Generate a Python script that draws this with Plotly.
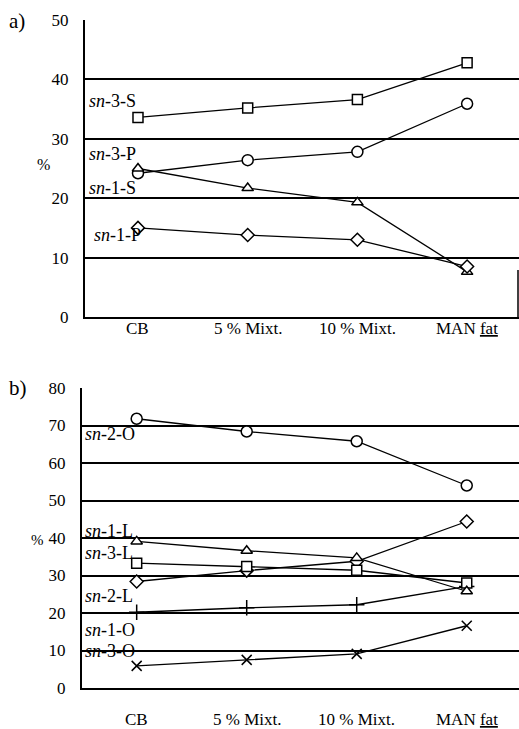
import plotly.graph_objects as go

# ---------------- data ----------------
categories = ["CB", "5 % Mixt.", "10 % Mixt.", "MAN fat"]
cat_labels = ["CB", "5 % Mixt.", "10 % Mixt.", "MAN <u>fat</u>"]
x_pos = [0, 1, 2, 3]

# panel a)
a_sn3S = [33.6, 35.2, 36.6, 42.8]
a_sn3P = [24.2, 26.4, 27.8, 35.9]
a_sn1S = [25.0, 21.7, 19.3, 7.6]
a_sn1P = [15.0, 13.8, 13.0, 8.5]

# panel b)
b_sn2O = [71.8, 68.4, 65.8, 54.0]
b_sn1L = [39.1, 36.6, 34.7, 25.8]
b_sn3L = [33.3, 32.4, 31.4, 28.0]
b_sn2L = [28.4, 31.3, 33.8, 44.4]
b_sn1O = [20.2, 21.4, 22.2, 27.1]
b_sn3O = [5.9, 7.5, 9.1, 16.6]

a_ticks = [0, 10, 20, 30, 40, 50]
b_ticks = [0, 10, 20, 30, 40, 50, 60, 70, 80]

# ---------------- layout helpers ----------------
W, H = 519, 729
FONT = "Liberation Serif"


def py(p):
    return 1 - p / H


def px(p):
    return p / W


fig = go.Figure()


def add(y, sym, xa, ya, size=10):
    fig.add_trace(go.Scatter(
        x=x_pos, y=y, mode="lines+markers", xaxis=xa, yaxis=ya,
        line=dict(color="black", width=1.3),
        marker=dict(symbol=sym, size=size, color="white",
                    line=dict(color="black", width=1.5)),
        showlegend=False, hoverinfo="skip"))


# panel a
add(a_sn3S, "square", "x", "y", 10)
add(a_sn3P, "circle", "x", "y", 11)
add(a_sn1S, "triangle-up", "x", "y", 10)
add(a_sn1P, "diamond", "x", "y", 10)

# panel b
add(b_sn2O, "circle", "x2", "y2", 11)
add(b_sn1O, "cross-thin", "x2", "y2", 11)
add(b_sn3O, "x-thin", "x2", "y2", 10)
add(b_sn2L, "diamond", "x2", "y2", 10)
add(b_sn3L, "square", "x2", "y2", 10)
add(b_sn1L, "triangle-up", "x2", "y2", 10)

tickfont = dict(family=FONT, size=17, color="black")

common_x = dict(
    tickmode="array", tickvals=x_pos, showticklabels=False,
    showgrid=False, zeroline=False, showline=True, linecolor="black",
    linewidth=2, ticks="", fixedrange=True, automargin=False,
)
common_y = dict(
    showgrid=True, gridcolor="black", gridwidth=1.5, zeroline=False,
    showline=True, linecolor="black", linewidth=2, ticks="",
    tickfont=tickfont, ticklabelstandoff=11, fixedrange=True,
    automargin=False,
)

fig.update_layout(
    width=W, height=H,
    margin=dict(l=0, r=0, t=0, b=0),
    paper_bgcolor="white", plot_bgcolor="white",
    font=dict(family=FONT, color="black"),
    xaxis=dict(domain=[px(85), 1], range=[-0.483, 3.473], anchor="y",
               **common_x),
    yaxis=dict(domain=[py(317), py(20)], range=[0, 50], tickvals=a_ticks,
               anchor="x", **common_y),
    xaxis2=dict(domain=[px(82), 1], range=[-0.497, 3.475], anchor="y2",
                **common_x),
    yaxis2=dict(domain=[py(688), py(388)], range=[0, 80], tickvals=b_ticks,
                anchor="x2", **common_y),
)

ann = []


def label(text, x, y, size=18, anchor="left"):
    ann.append(dict(text=text, x=px(x), y=py(y), xref="paper", yref="paper",
                    xanchor=anchor, yanchor="middle", showarrow=False,
                    font=dict(family=FONT, size=size, color="black")))


# category labels placed along each panel's x axis
for i, t in enumerate(cat_labels):
    for xr, yy in (("x", 328), ("x2", 719)):
        ann.append(dict(text=t, x=x_pos[i], y=py(yy), xref=xr, yref="paper",
                        xanchor="center", yanchor="middle", showarrow=False,
                        font=tickfont))

label("a)", 7, 21, 21)
label("b)", 7, 388, 21)
label("%", 35, 164, 16)
label("%", 46, 540, 15, anchor="right")

label("<i>sn</i>-3-S", 87, 101)
label("<i>sn</i>-3-P", 87, 154)
label("<i>sn</i>-1-S", 87, 188)
label("<i>sn</i>-1-P", 92, 235)

label("<i>sn</i>-2-O", 83, 434)
label("<i>sn</i>-1-L", 83, 531)
label("<i>sn</i>-3-L", 83, 553)
label("<i>sn</i>-2-L", 83, 596)
label("<i>sn</i>-1-O", 83, 630)
label("<i>sn</i>-3-O", 83, 651)

fig.update_layout(annotations=ann)

# short right border segment on the top panel
fig.add_shape(type="line", xref="paper", yref="paper",
              x0=px(518), x1=px(518), y0=py(270), y1=py(318),
              line=dict(color="black", width=1.5))

fig.write_html("out.html")
